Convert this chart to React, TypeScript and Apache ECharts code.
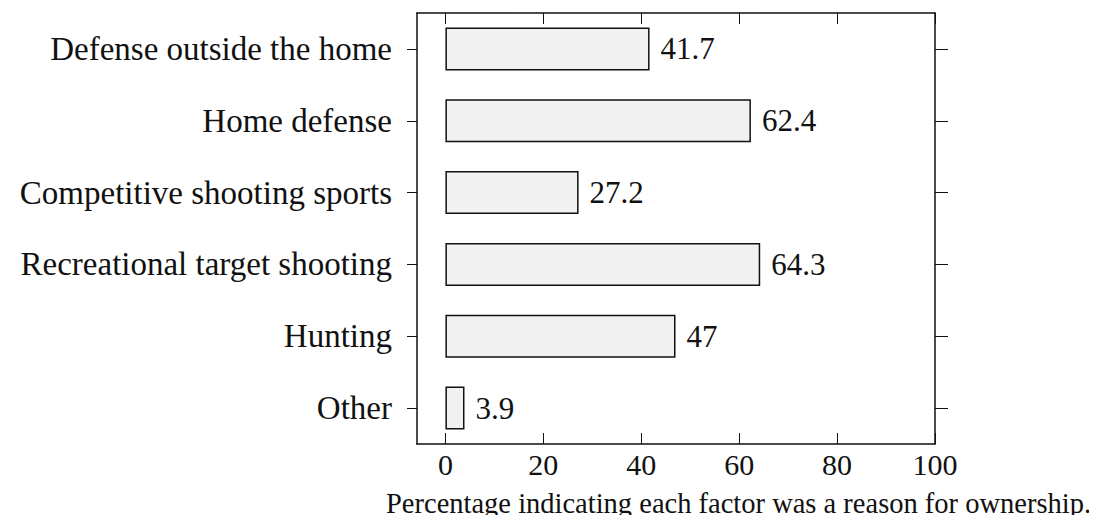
import React, { useEffect, useRef } from "react";
import * as echarts from "echarts";

const categories = [
  "Defense outside the home",
  "Home defense",
  "Competitive shooting sports",
  "Recreational target shooting",
  "Hunting",
  "Other",
];
const values = [41.7, 62.4, 27.2, 64.3, 47, 3.9];
const xTicks = [0, 20, 40, 60, 80, 100];
const xTitle = "Percentage indicating each factor was a reason for ownership.";

const FONT = "'Liberation Serif', 'DejaVu Serif', serif";

export default function App() {
  const ref = useRef<HTMLDivElement>(null);
  useEffect(() => {
    if (!ref.current) return;
    const chart = echarts.init(ref.current, undefined, { renderer: "svg" });
    const axisLine = { show: true, onZero: false, lineStyle: { color: "#111", width: 1.5 } };
    const tickStyle = { color: "#111", width: 1 };
    chart.setOption({
      animation: false,
      backgroundColor: "#fff",
      grid: { left: 417, right: 162, top: 13, bottom: 79, containLabel: false },
      xAxis: [
        {
          type: "value",
          position: "bottom",
          min: -5.8,
          max: 100,
          splitLine: { show: false },
          axisLine,
          axisTick: { show: true, inside: true, length: 11, customValues: xTicks, lineStyle: tickStyle },
          axisLabel: {
            customValues: xTicks,
            margin: 5,
            color: "#111",
            fontFamily: FONT,
            fontSize: 30,
          },
        },
        {
          type: "value",
          position: "top",
          min: -5.8,
          max: 100,
          splitLine: { show: false },
          axisLine,
          axisTick: { show: true, inside: true, length: 11, customValues: xTicks, lineStyle: tickStyle },
          axisLabel: { show: false },
        },
      ],
      yAxis: [
        {
          type: "category",
          position: "left",
          inverse: true,
          data: categories,
          axisLine,
          axisTick: { show: true, alignWithLabel: true, length: 10, lineStyle: tickStyle },
          axisLabel: {
            margin: 25,
            color: "#111",
            fontFamily: FONT,
            fontSize: 33,
          },
        },
        {
          type: "category",
          position: "right",
          inverse: true,
          data: categories,
          axisLine,
          axisTick: { show: true, alignWithLabel: true, length: 13, lineStyle: tickStyle },
          axisLabel: { show: false },
        },
      ],
      series: [
        {
          type: "bar",
          xAxisIndex: 0,
          yAxisIndex: 0,
          data: values,
          barWidth: 43,
          itemStyle: { color: "#f1f1f1", borderColor: "#111", borderWidth: 1.5 },
          label: {
            show: true,
            position: "right",
            distance: 11,
            color: "#111",
            fontFamily: FONT,
            fontSize: 31,
          },
        },
      ],
      graphic: [
        {
          type: "text",
          x: 386,
          y: 503,
          style: {
            text: xTitle,
            fill: "#111",
            font: `28.5px ${FONT}`,
            verticalAlign: "middle",
            align: "left",
          },
        },
      ],
    });
    return () => chart.dispose();
  }, []);
  return <div ref={ref} style={{ width: 1097, height: 523, margin: -8 }} />;
}
